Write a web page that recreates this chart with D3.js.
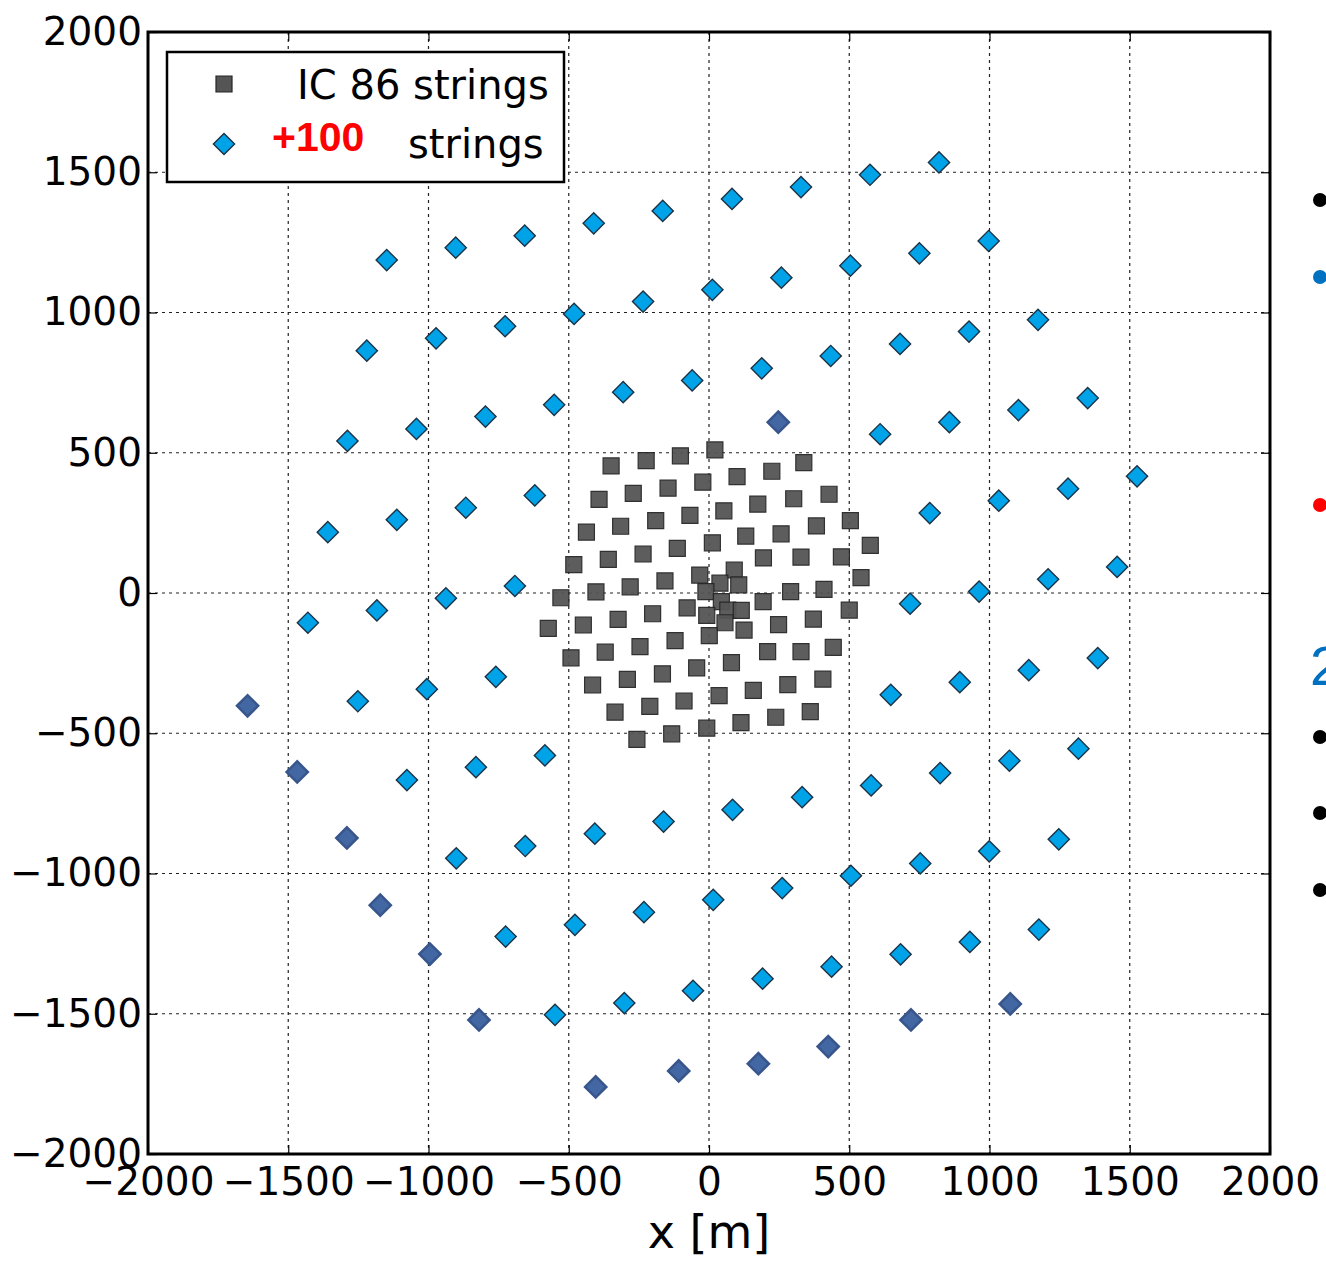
<!DOCTYPE html>
<html>
<head>
<meta charset="utf-8">
<script src="https://cdn.jsdelivr.net/npm/d3@7"></script>
<style>
  body { margin: 0; background: #fff; }
  svg { display: block; }
  .tick text { font-family: "DejaVu Sans", sans-serif; font-size: 39px; fill: #000; }
</style>
</head>
<body>
<svg id="chart" width="1326" height="1261"></svg>
<script>
// IC86 string positions (x, y in m)
const ic86X = [-349,-224,-102,21,100,224,338,-392,-270,-146,-22,53,174,302,428,-437,-315,-190,-68,12,131,257,383,504,575,
  -482,-359,-235,-113,194,328,472,542,-528,-403,-281,-157,-33,90,39,106,-11,291,410,193,500,-573,-448,-324,-201,-78,
  44,67,115,-8,57,125,1,248,372,-492,-370,-246,-121,80,209,328,443,-415,-291,-166,-44,36,158,281,406,-335,-211,-89,
  -8,114,238,361,-257,-133];
const ic86Y = [453,472,489,510,415,434,465,334,355,374,395,293,317,336,352,217,238,258,277,179,203,211,239,258,170,
  101,120,139,159,125,128,129,55,-17,4,22,43,64,82,35,29,5,5,13,-31,-61,-126,-114,-94,-74,-53,
  -31,-61,-62,-80,-106,-132,-152,-113,-93,-231,-211,-191,-170,-248,-209,-209,-194,-328,-308,-288,-267,-366,-347,-327,-307,-425,-404,-385,
  -482,-462,-443,-423,-522,-502];

// +100 new strings
const newX = [-1149,-903,-657,-411,-165,82,328,574,820,
  -1220,-973,-727,-481,-235,12,258,504,750,997,
  -1289,-1043,-797,-552,-306,-60,188,434,681,927,1173,
  -1359,-1113,-867,-621,610,857,1103,1350,
  -1430,-1184,-938,-692,787,1033,1280,1526,
  -1252,-1006,-760,717,963,1209,1455,
  -1077,-831,-585,648,894,1140,1386,
  -901,-655,-407,-162,84,332,578,824,1071,1317,
  -725,-478,-232,15,261,506,753,999,1247,
  -549,-302,-57,191,437,683,930,1176];
const newY = [1187,1231,1274,1318,1362,1405,1447,1491,1535,
  864,908,951,995,1039,1081,1124,1167,1211,1255,
  542,585,629,671,716,758,801,845,888,932,974,
  217,261,304,348,566,609,652,695,
  -106,-62,-19,25,285,329,372,416,
  -386,-343,-299,-38,5,49,93,
  -667,-621,-579,-363,-318,-275,-232,
  -946,-902,-858,-815,-773,-728,-686,-642,-598,-555,
  -1225,-1183,-1138,-1094,-1052,-1008,-964,-921,-878,
  -1504,-1462,-1418,-1375,-1332,-1288,-1244,-1200];

// darker diamonds (outer ring + one inside)
const darkX = [-1645,-1468,-1291,-1172,-995,-820,-404,-108,176,425,720,1074,247];
const darkY = [-402,-638,-873,-1113,-1287,-1522,-1761,-1704,-1678,-1617,-1522,-1465,609];

const xTicks = [-2000,-1500,-1000,-500,0,500,1000,1500,2000];
const yTicks = [-2000,-1500,-1000,-500,0,500,1000,1500,2000];

const svg = d3.select("#chart");
const pLeft = 148, pRight = 1270, pTop = 32, pBottom = 1154;

const x = d3.scaleLinear().domain([-2000, 2000]).range([pLeft, pRight]);
const y = d3.scaleLinear().domain([-2000, 2000]).range([pBottom, pTop]);

const fmt = d => d < 0 ? "\u2212" + Math.abs(d) : String(d);

// grid
const grid = svg.append("g").attr("stroke", "#222").attr("stroke-width", 1.2)
  .attr("stroke-dasharray", "3,4");
grid.selectAll(".gx").data(xTicks.slice(1, -1)).enter().append("line")
  .attr("x1", d => x(d)).attr("x2", d => x(d)).attr("y1", pTop).attr("y2", pBottom);
grid.selectAll(".gy").data(yTicks.slice(1, -1)).enter().append("line")
  .attr("y1", d => y(d)).attr("y2", d => y(d)).attr("x1", pLeft).attr("x2", pRight);

// axes with inward ticks on all sides
svg.append("g").attr("transform", "translate(0," + pBottom + ")")
  .call(d3.axisBottom(x).tickValues(xTicks).tickSize(-9).tickPadding(13).tickFormat(fmt));
svg.append("g").attr("transform", "translate(0," + pTop + ")")
  .call(d3.axisTop(x).tickValues(xTicks).tickSize(-9).tickFormat(""));
svg.append("g").attr("transform", "translate(" + pLeft + ",0)")
  .call(d3.axisLeft(y).tickValues(yTicks).tickSize(-9).tickPadding(6).tickFormat(fmt));
svg.append("g").attr("transform", "translate(" + pRight + ",0)")
  .call(d3.axisRight(y).tickValues(yTicks).tickSize(-9).tickFormat(""));
svg.selectAll(".domain").remove();
svg.selectAll(".tick line").attr("stroke", "#000").attr("stroke-width", 1.2);

// points
const sq = d3.symbol().type(d3.symbolSquare).size(256);
const dia = d3.symbol().type(d3.symbolSquare).size(225);

svg.append("g").selectAll("path").data(d3.range(ic86X.length)).enter().append("path")
  .attr("d", sq)
  .attr("transform", i => "translate(" + x(ic86X[i]) + "," + y(ic86Y[i]) + ")")
  .attr("fill", "#555").attr("stroke", "#262626").attr("stroke-width", 1.2).attr("opacity", 0.95);

svg.append("g").selectAll("path").data(d3.range(newX.length)).enter().append("path")
  .attr("d", dia)
  .attr("transform", i => "translate(" + x(newX[i]) + "," + y(newY[i]) + ") rotate(45)")
  .attr("fill", "#00a2e8").attr("stroke", "#1b3346").attr("stroke-width", 1.4);

svg.append("g").selectAll("path").data(d3.range(darkX.length)).enter().append("path")
  .attr("d", dia)
  .attr("transform", i => "translate(" + x(darkX[i]) + "," + y(darkY[i]) + ") rotate(45)")
  .attr("fill", "#4367a2").attr("stroke", "#38558c").attr("stroke-width", 2.5);

// frame
svg.append("rect").attr("x", pLeft).attr("y", pTop).attr("width", pRight - pLeft).attr("height", pBottom - pTop)
  .attr("fill", "none").attr("stroke", "#000").attr("stroke-width", 3);

// x label
svg.append("text").attr("x", (pLeft + pRight) / 2).attr("y", 1248).attr("text-anchor", "middle")
  .attr("font-family", "DejaVu Sans, sans-serif").attr("font-size", 46).text("x [m]");

// legend
const lg = svg.append("g");
lg.append("rect").attr("x", 167).attr("y", 52).attr("width", 397).attr("height", 130)
  .attr("fill", "#fff").attr("stroke", "#000").attr("stroke-width", 2.5);
lg.append("path").attr("d", sq).attr("transform", "translate(224,84)")
  .attr("fill", "#555").attr("stroke", "#262626").attr("stroke-width", 1.2);
lg.append("path").attr("d", dia).attr("transform", "translate(224,144) rotate(45)")
  .attr("fill", "#00a2e8").attr("stroke", "#1b3346").attr("stroke-width", 1.4);
lg.append("text").attr("x", 297).attr("y", 99).attr("font-family", "DejaVu Sans, sans-serif")
  .attr("font-size", 40).text("IC 86 strings");
lg.append("text").attr("x", 272).attr("y", 151).attr("font-family", "Liberation Sans, Arial, sans-serif")
  .attr("font-weight", "bold").attr("font-size", 41).attr("fill", "#ff0000").text("+100");
lg.append("text").attr("x", 408).attr("y", 158).attr("font-family", "DejaVu Sans, sans-serif")
  .attr("font-size", 40).text("strings");

// slide remnants on the right edge
const bulletY = [200, 277, 505, 737, 813, 890];
const bulletC = ["#000", "#0070c0", "#ff0000", "#000", "#000", "#000"];
svg.append("g").selectAll("circle").data(d3.range(bulletY.length)).enter().append("circle")
  .attr("cx", 1320).attr("cy", i => bulletY[i]).attr("r", 7).attr("fill", i => bulletC[i]);
svg.append("text").attr("x", 1310).attr("y", 685).attr("font-family", "Liberation Sans, Arial, sans-serif")
  .attr("font-size", 56).attr("fill", "#0070c0").text("2");
</script>
</body>
</html>
